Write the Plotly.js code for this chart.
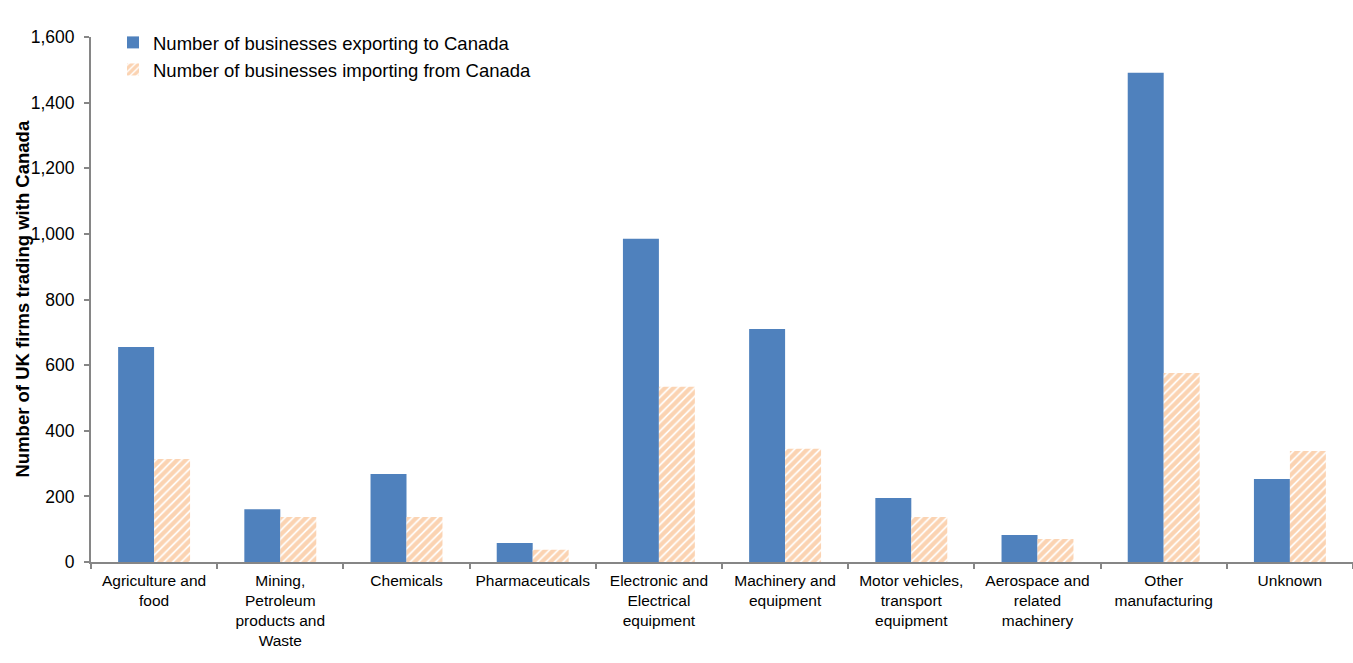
<!DOCTYPE html>
<html>
<head>
<meta charset="utf-8">
<script src="https://cdn.plot.ly/plotly-3.0.1.min.js"></script>
<style>html,body{margin:0;padding:0;background:#fff}#chart{width:1353px;height:663px}</style>
</head>
<body>
<div id="chart"></div>
<script>
const categories = [
  "Agriculture and<br>food",
  "Mining,<br>Petroleum<br>products and<br>Waste",
  "Chemicals",
  "Pharmaceuticals",
  "Electronic and<br>Electrical<br>equipment",
  "Machinery and<br>equipment",
  "Motor vehicles,<br>transport<br>equipment",
  "Aerospace and<br>related<br>machinery",
  "Other<br>manufacturing",
  "Unknown"
];
const exporting = [655, 161, 268, 58, 985, 710, 195, 82, 1491, 253];
const importing = [314, 137, 137, 37, 534, 345, 137, 70, 576, 338];
const yTickVals = [0, 200, 400, 600, 800, 1000, 1200, 1400, 1600];
const yTickText = ["0", "200", "400", "600", "800", "1,000", "1,200", "1,400", "1,600"];
const yTitle = "Number of UK firms trading with Canada";

const traces = [
  {
    type: "bar", x: categories, y: exporting,
    name: "Number of businesses exporting to Canada",
    marker: {color: "#4F81BD", line: {width: 0}},
    hoverinfo: "y"
  },
  {
    type: "bar", x: categories, y: importing,
    name: "Number of businesses importing from Canada",
    marker: {
      color: "#FFFFFF",
      line: {width: 0},
      pattern: {shape: "/", fgcolor: "#F7A865", bgcolor: "#FFFFFF", size: 6, solidity: 0.7, fillmode: "overlay"}
    },
    hoverinfo: "y"
  }
];

const layout = {
  width: 1353, height: 663,
  margin: {l: 91, r: 0, t: 37, b: 101},
  paper_bgcolor: "#fff", plot_bgcolor: "#fff",
  font: {family: "Liberation Sans, Arial, sans-serif", size: 16, color: "#000"},
  barmode: "group",
  bargap: 0.43,
  bargroupgap: 0,
  showlegend: true,
  legend: {
    x: (113 - 91) / (1353 - 91), xref: "paper", y: 1.025, yanchor: "top",
    font: {size: 18.5, color: "#000"},
    bgcolor: "rgba(0,0,0,0)",
    itemwidth: 30, tracegroupgap: 0
  },
  xaxis: {
    type: "category",
    showline: true, linecolor: "#868686", linewidth: 2,
    ticks: "outside", tickson: "boundaries", ticklen: 5, tickcolor: "#868686", tickwidth: 2,
    tickfont: {size: 15.5, color: "#000"},
    ticklabelstandoff: 3,
    showgrid: false, zeroline: false, tickangle: 0,
    automargin: false
  },
  yaxis: {
    range: [0, 1600],
    tickvals: yTickVals, ticktext: yTickText,
    showline: true, linecolor: "#868686", linewidth: 2,
    ticks: "outside", ticklen: 5, tickcolor: "#868686", tickwidth: 2,
    tickfont: {size: 17.5, color: "#000"},
    ticklabelstandoff: 6,
    showgrid: false, zeroline: false,
    automargin: false
  },
  annotations: [{
    text: "<b>" + yTitle + "</b>",
    xref: "paper", yref: "paper",
    x: (22 - 91) / (1353 - 91), y: 0.5,
    xanchor: "center", yanchor: "middle",
    textangle: -90, showarrow: false,
    font: {size: 18.5, color: "#000"}
  }]
};

Plotly.newPlot("chart", traces, layout, {displayModeBar: false, staticPlot: true});
</script>
</body>
</html>
